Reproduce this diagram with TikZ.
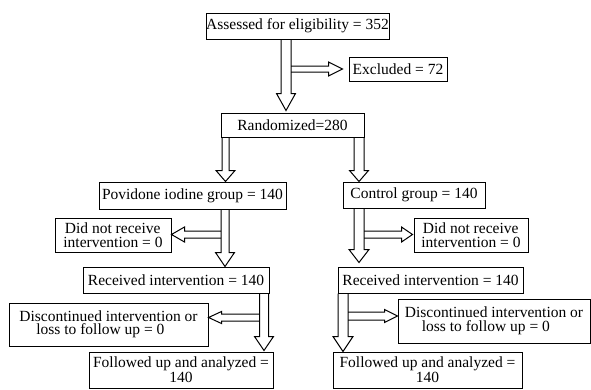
\documentclass[tikz,border=0pt]{standalone}
\usepackage{fontspec}
\setmainfont{Liberation Serif}
\usetikzlibrary{calc}
\tikzset{
  box/.style={draw, line width=1pt, inner sep=0pt, font=\fontsize{15.5}{13.5}\selectfont},
  hol/.style={draw, line width=1pt, line join=miter}
}
% hollow arrow pointing down: src node, tgt node, x, shaft half, head half, head length, gap
\newcommand\hollowdown[7]{%
  \draw[hol] let \p1=(#1.south), \p2=(#2.north) in
    (#3pt-#4pt,\y1) -- (#3pt-#4pt,\y2+#7pt+#6pt) -- (#3pt-#5pt,\y2+#7pt+#6pt) --
    (#3pt,\y2+#7pt) -- (#3pt+#5pt,\y2+#7pt+#6pt) -- (#3pt+#4pt,\y2+#7pt+#6pt) -- (#3pt+#4pt,\y1);}
% hollow arrow pointing right: start coord, tgt node, shaft half, head half, head length, gap
\newcommand\hollowright[6]{%
  \draw[hol] let \p1=(#1), \p2=(#2.west) in
    (\x1,\y1+#3pt) -- (\x2-#6pt-#5pt,\y1+#3pt) -- (\x2-#6pt-#5pt,\y1+#4pt) --
    (\x2-#6pt,\y1) -- (\x2-#6pt-#5pt,\y1-#4pt) -- (\x2-#6pt-#5pt,\y1-#3pt) -- (\x1,\y1-#3pt);}
% hollow arrow pointing left
\newcommand\hollowleft[6]{%
  \draw[hol] let \p1=(#1), \p2=(#2.east) in
    (\x1,\y1+#3pt) -- (\x2+#6pt+#5pt,\y1+#3pt) -- (\x2+#6pt+#5pt,\y1+#4pt) --
    (\x2+#6pt,\y1) -- (\x2+#6pt+#5pt,\y1-#4pt) -- (\x2+#6pt+#5pt,\y1-#3pt) -- (\x1,\y1-#3pt);}
\begin{document}
\begin{tikzpicture}[x=1pt,y=-1pt]
\useasboundingbox (0,0) rectangle (591,389);
\node[box, minimum width=183pt, minimum height=26pt] (assess) at (297.5,26) {Assessed for eligibility = 352};
\node[box, minimum width=98pt, minimum height=24pt] (excl) at (398,69) {Excluded = 72};
\node[box, minimum width=143pt, minimum height=24pt] (rand) at (292.5,125) {Randomized=280};
\node[box, minimum width=187pt, minimum height=27pt] (pov) at (192.5,195.5) {Povidone iodine group = 140};
\node[box, minimum width=142pt, minimum height=26pt] (ctrl) at (414,195) {Control group = 140};
\node[box, minimum width=116pt, minimum height=34pt, align=left] (dnrL) at (113,235) {\hspace*{1.5pt}Did not receive\\intervention = 0};
\node[box, minimum width=114pt, minimum height=34pt, align=left] (dnrR) at (471,235) {\hspace*{1.5pt}Did not receive\\intervention = 0};
\node[box, minimum width=186pt, minimum height=26pt] (recL) at (176,280) {Received intervention = 140};
\node[box, minimum width=185pt, minimum height=26pt] (recR) at (430.5,280) {Received intervention = 140};
\node[box, minimum width=199pt, minimum height=43pt, align=left] (disL) at (108.5,324.5) {Discontinued intervention or\\\hspace*{17pt}loss to follow up = 0};
\node[box, minimum width=192pt, minimum height=44pt, align=left] (disR) at (494,321) {Discontinued intervention or\\\hspace*{17pt}loss to follow up = 0};
\node[box, minimum width=184pt, minimum height=36pt, align=center] (folL) at (181,370) {Followed up and analyzed =\\140};
\node[box, minimum width=189pt, minimum height=36pt, align=center] (folR) at (427.5,370) {Followed up and analyzed =\\140};

\coordinate (e1) at (291,69);
\coordinate (d1) at (221,234.5);
\coordinate (d2) at (364,234.5);
\coordinate (c1) at (259,317.5);
\coordinate (c2) at (348,316);

\hollowdown{assess}{rand}{286}{5}{9.5}{17}{2}
\hollowdown{rand}{pov}{225.5}{3.5}{9.5}{11}{0}
\hollowdown{rand}{ctrl}{359}{5}{9.5}{11}{0}
\hollowdown{pov}{recL}{225}{4}{9.5}{14}{0}
\hollowdown{ctrl}{recR}{359}{5}{10}{13}{4}
\hollowdown{recL}{folL}{264}{4.5}{9.5}{14}{1}
\hollowdown{recR}{folR}{343}{5}{10}{15}{0}

\hollowright{e1}{excl}{3}{7}{14}{6}
\hollowleft{d1}{dnrL}{3.5}{7.5}{13}{0}
\hollowright{d2}{dnrR}{3.5}{7.5}{11}{1}
\hollowleft{c1}{disL}{3.5}{6}{13}{0}
\hollowright{c2}{disR}{4}{6.5}{13}{0}
\end{tikzpicture}
\end{document}
